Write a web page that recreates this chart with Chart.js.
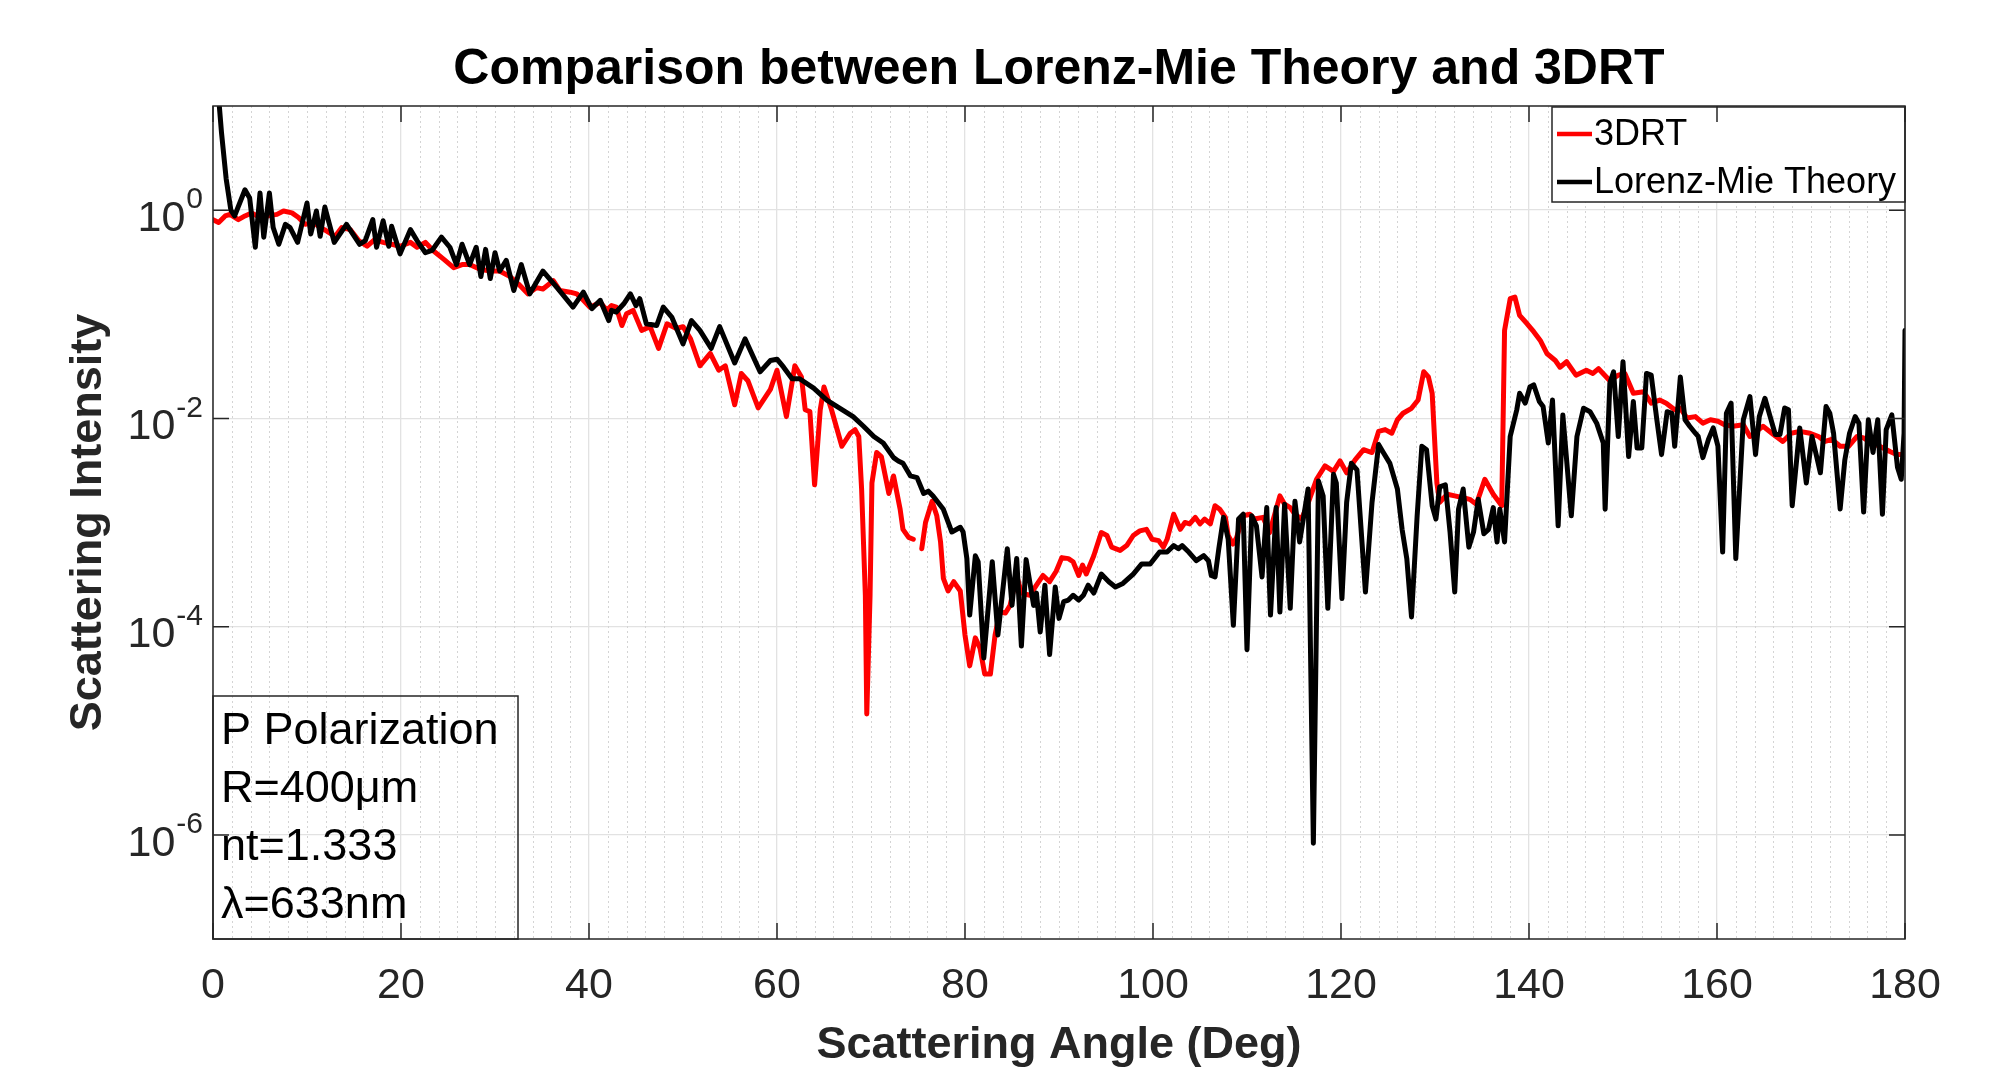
<!DOCTYPE html>
<html lang="en">
<head>
<meta charset="UTF-8">
<title>Comparison between Lorenz-Mie Theory and 3DRT</title>
<script src="https://cdn.jsdelivr.net/npm/chart.js@4.4.1/dist/chart.umd.min.js"></script>
<style>
  html, body { margin: 0; padding: 0; background: #fff; }
</style>
</head>
<body>
<canvas id="myChart" width="1991" height="1070"></canvas>
<script>
// 3DRT (red) - scattering angle in deg / intensity
const redAngle = [
  0, 0.6, 1.3, 1.8, 2.7, 3.4, 4.1, 5.0, 5.9, 6.8, 7.5, 8.4, 9.1, 9.8,
  10.7, 11.4, 12.1, 13.0, 13.7, 14.6, 15.5, 16.4, 17.2, 18.1, 19.0, 19.9,
  21.0, 21.7, 22.6, 23.4, 24.5, 25.6, 26.5, 27.3, 28.4, 29.5,
  30.5, 31.6, 32.5, 33.5, 34.4, 35.1, 36.2, 36.9, 38.0, 38.7, 39.4,
  40.1, 41.2, 41.9, 42.4, 42.9, 43.5, 44.0, 44.7, 45.6, 46.5, 47.4, 48.3, 49.3,
  50.0, 50.8, 51.8, 52.9, 53.8, 54.5, 55.5, 56.2, 56.9, 58.0, 59.3,
  60.0, 61.0, 61.9, 62.6, 63.0, 63.5, 64.0, 64.6, 65.0, 65.8, 66.9, 67.8, 68.3, 68.7,
  69.0, 69.4, 69.55, 69.9, 70.1, 70.6, 71.1, 71.9, 72.4, 73.1, 73.4, 74.0, 74.5,
  75.0, 75.4, 75.8, 76.5, 77.0, 77.4, 77.7, 78.2, 78.8, 79.5,
  80.0, 80.5, 81.1, 81.6, 82.1, 82.7, 83.2, 83.7, 84.3, 84.8, 85.5, 86.0, 86.9, 87.6, 88.3, 89.0, 89.7,
  90.3, 91.0, 91.5, 92.1, 92.5, 92.9, 93.7, 94.5, 95.1, 95.6, 96.5, 97.2, 97.9, 98.6, 99.3, 99.9,
  100.6, 101.1, 101.5, 102.2, 102.9, 103.4, 103.9, 104.5, 105.0, 105.5, 106.1, 106.6, 107.1, 107.7,
  108.0, 108.5, 108.9, 109.6, 110.3, 110.8, 111.7, 112.4, 113.5, 114.0, 114.6, 115.1, 115.8, 116.4,
  117.4, 118.3, 119.2, 119.9, 120.6, 121.5, 122.4, 123.3, 124.0, 124.7, 125.4, 126.0, 126.6,
  127.5, 128.2, 128.8, 129.3, 129.7, 130.2, 130.5, 131.3, 132.1, 133.0, 133.7, 134.4, 135.3, 136.2, 137.1,
  137.4, 138.0, 138.5, 139.0, 139.8, 140.5, 141.2, 141.9, 142.8, 143.3, 144.0, 145.0, 146.1, 146.8, 147.4,
  148.6, 149.5, 150.2, 151.1, 152.2, 153.0, 153.9, 154.6, 155.5, 156.1, 156.8, 157.7, 158.5, 159.3,
  160.1, 160.8, 161.7, 162.8, 163.5, 164.2, 164.9, 166.0, 167.0, 167.9, 168.8, 169.9,
  170.8, 171.5, 172.2, 173.1, 174.0, 174.9, 175.6, 176.4, 177.3, 178.4, 179.1, 180.0
];
const redValue = [
  0.81, 0.76, 0.88, 0.91, 0.81, 0.88, 0.94, 0.85, 0.88, 0.91, 0.98, 0.94, 0.85, 0.73,
  0.76, 0.68, 0.63, 0.56, 0.68, 0.65, 0.51, 0.45, 0.52, 0.49, 0.47, 0.45,
  0.49, 0.44, 0.49, 0.41, 0.34, 0.28, 0.30, 0.30, 0.27, 0.26,
  0.26, 0.23, 0.195, 0.157, 0.18, 0.175, 0.21, 0.169, 0.163, 0.157, 0.136,
  0.117, 0.13, 0.109, 0.121, 0.117, 0.078, 0.101, 0.109, 0.07, 0.076, 0.047, 0.081, 0.073,
  0.076, 0.058, 0.032, 0.042, 0.029, 0.032, 0.0135, 0.027, 0.023, 0.0126, 0.019,
  0.029, 0.0104, 0.032, 0.025, 0.0121, 0.0116, 0.0023, 0.0121, 0.020, 0.0121, 0.0054, 0.0072, 0.0078, 0.0067,
  0.0021, 2.0e-4, 1.45e-5, 2.0e-4, 0.0024, 0.0047, 0.0043, 0.0019, 0.0028, 0.00134, 8.6e-4, 7.2e-4, 6.9e-4,
  null, 5.6e-4, 1.0e-3, 0.0016, 0.00116, 6.5e-4, 2.9e-4, 2.2e-4, 2.7e-4, 2.2e-4,
  8.3e-5, 4.2e-5, 7.8e-5, 6.2e-5, 3.5e-5, 3.5e-5, 8.3e-5, 1.38e-4, 1.35e-4, 1.6e-4, 3.1e-4, 2.1e-4, 2.0e-4, 2.5e-4, 3.1e-4, 2.7e-4, 3.4e-4,
  4.6e-4, 4.5e-4, 4.2e-4, 3.1e-4, 3.9e-4, 3.2e-4, 4.8e-4, 8.0e-4, 7.5e-4, 5.8e-4, 5.4e-4, 6.0e-4, 7.5e-4, 8.3e-4, 8.6e-4, 6.9e-4,
  6.7e-4, 5.8e-4, 6.9e-4, 1.2e-3, 8.6e-4, 1.0e-3, 9.7e-4, 1.12e-3, 9.7e-4, 1.08e-3, 9.7e-4, 1.45e-3, 1.34e-3, 1.12e-3,
  7.5e-4, 6.2e-4, 7.2e-4, 1.16e-3, 1.2e-3, 1.08e-3, 1.12e-3, 8.0e-4, 1.8e-3, 1.5e-3, 1.39e-3, 1.2e-3, 1.08e-3, 1.45e-3,
  2.6e-3, 3.5e-3, 3.1e-3, 3.9e-3, 3.0e-3, 4.0e-3, 5.0e-3, 4.7e-3, 7.5e-3, 7.8e-3, 7.2e-3, 9.7e-3, 0.0112,
  0.0125, 0.015, 0.028, 0.025, 0.0174, 0.0024, 0.00156, 0.00187, 0.0018, 0.00173, 0.00167, 0.0015, 0.0026, 0.00187, 0.00145,
  0.07, 0.141, 0.146, 0.0975, 0.081, 0.068, 0.056, 0.042, 0.036, 0.031, 0.035, 0.026, 0.029, 0.027, 0.030,
  0.023, 0.026, 0.027, 0.0174, 0.018, 0.014, 0.015, 0.014, 0.0121, 0.0125, 0.0101, 0.0104, 0.009, 0.0097,
  0.0094, 0.0087, 0.0084, 0.0087, 0.0067, 0.0075, 0.0084, 0.007, 0.006, 0.0072, 0.0075, 0.0072,
  0.0067, 0.006, 0.0063, 0.0054, 0.0054, 0.0067, 0.0065, 0.0058, 0.0054, 0.0048, 0.0045, 0.0045
];

// Lorenz-Mie Theory (black)
const mieAngle = [
  0.4, 0.9, 1.4, 1.9, 2.3, 3.4, 3.9, 4.5, 5.0, 5.4, 6.0, 6.4, 7.0, 7.7, 8.2, 9.0,
  10.0, 10.4, 11.0, 11.4, 11.9, 12.9, 14.2, 15.6, 16.2, 17.0, 17.4, 18.1, 18.7, 19.0, 19.9,
  21.0, 21.7, 22.6, 23.3, 24.3, 25.2, 25.9, 26.5, 27.3, 28.0, 28.5, 29.0, 29.5,
  30.0, 30.5, 31.2, 32.0, 32.8, 33.7, 35.1, 36.6, 38.3, 39.4,
  40.3, 41.2, 42.1, 42.4, 42.9, 43.7, 44.4, 45.0, 45.4, 46.1, 47.2, 47.9, 48.8,
  50.0, 50.9, 51.8, 53.0, 53.9, 55.5, 56.6, 58.2, 59.3,
  60.0, 60.7, 61.6, 62.4, 63.9, 65.3, 66.7, 68.1, 69.2,
  70.3, 71.3, 72.4, 72.9, 73.4, 74.2, 74.9, 75.6, 76.1, 76.6, 77.7, 78.6, 79.5, 79.8,
  80.2, 80.5, 81.1, 81.4, 82.0, 82.9, 83.5, 84.5, 85.0, 85.5, 86.0, 86.5, 87.3, 87.6, 88.0, 88.5, 89.0, 89.6,
  90.0, 90.5, 91.0, 91.5, 92.1, 92.6, 93.1, 93.7, 94.5, 95.3, 96.0, 96.8, 97.9, 98.8, 99.7,
  100.7, 101.5, 102.2, 102.7, 103.1, 103.8, 104.6, 105.4, 105.9, 106.2, 106.6, 107.0, 107.5, 108.0, 108.55, 109.1, 109.6,
  110.0, 110.5, 111.0, 111.6, 112.1, 112.5, 113.1, 113.5, 114.0, 114.6, 115.1, 115.6, 116.5, 117.06, 117.6, 118.1, 118.6, 119.2, 119.5,
  120.1, 120.6, 121.1, 121.7, 122.6, 123.3, 124.0, 124.5, 125.2, 126.0, 126.5, 127.0, 127.5, 128.1, 128.6, 129.1, 129.7,
  130.1, 130.5, 131.1, 131.6, 132.1, 132.5, 133.0, 133.6, 134.1, 134.6, 135.2, 135.7, 136.2, 136.6, 136.9, 137.4,
  138.0, 138.7, 139.0, 139.6, 140.1, 140.5, 141.1, 141.5, 142.05, 142.5, 143.1, 143.6, 144.5, 145.1, 145.8, 146.5, 147.2, 147.9, 148.1, 148.6, 149.0, 149.5,
  150.0, 150.6, 151.1, 151.5, 152.0, 152.5, 153.0, 153.6, 154.1, 154.7, 155.2, 155.5, 156.1, 156.6, 157.1, 157.7, 158.0, 158.5, 159.1, 159.6,
  160.1, 160.6, 161.0, 161.5, 162.0, 162.8, 163.5, 164.1, 164.5, 165.1, 165.6, 166.2, 166.7, 167.2, 167.6, 168.0, 168.8, 169.5,
  170.1, 170.6, 171.0, 171.6, 172.0, 172.4, 173.1, 173.6, 174.1, 174.7, 175.1, 175.6, 176.1, 176.6, 177.1, 177.6, 178.0, 178.6, 179.2, 179.6, 179.9, 180.0
];
const mieValue = [
  20, 5.6, 2.0, 1.0, 0.88, 1.57, 1.31, 0.44, 1.46, 0.55, 1.46, 0.68, 0.47, 0.73, 0.68, 0.49,
  1.17, 0.59, 0.98, 0.56, 1.07, 0.49, 0.73, 0.47, 0.51, 0.81, 0.44, 0.79, 0.45, 0.70, 0.38,
  0.65, 0.51, 0.39, 0.41, 0.55, 0.44, 0.30, 0.47, 0.30, 0.44, 0.23, 0.42, 0.22,
  0.39, 0.26, 0.33, 0.169, 0.30, 0.157, 0.26, 0.18, 0.117, 0.163,
  0.113, 0.136, 0.087, 0.109, 0.105, 0.126, 0.157, 0.121, 0.141, 0.081, 0.078, 0.117, 0.094,
  0.052, 0.087, 0.07, 0.047, 0.076, 0.034, 0.058, 0.028, 0.036,
  0.037, 0.031, 0.024, 0.024, 0.0195, 0.015, 0.0125, 0.0104, 0.0084,
  0.0067, 0.0058, 0.0042, 0.0039, 0.0037, 0.0028, 0.0027, 0.0019, 0.0020, 0.0018, 0.00134, 8.1e-4, 9.0e-4, 8.1e-4,
  4.5e-4, 1.29e-4, 4.8e-4, 4.2e-4, 5.0e-5, 4.2e-4, 8.3e-5, 5.6e-4, 1.6e-4, 4.5e-4, 6.5e-5, 4.4e-4, 1.6e-4, 2.1e-4, 8.9e-5, 2.5e-4, 5.4e-5, 2.4e-4,
  1.2e-4, 1.74e-4, 1.8e-4, 2.0e-4, 1.8e-4, 2.0e-4, 2.5e-4, 2.1e-4, 3.2e-4, 2.7e-4, 2.4e-4, 2.6e-4, 3.2e-4, 4.0e-4, 4.0e-4,
  5.2e-4, 5.2e-4, 6.0e-4, 5.6e-4, 6.0e-4, 5.2e-4, 4.3e-4, 4.8e-4, 4.3e-4, 3.1e-4, 3.0e-4, 5.6e-4, 1.12e-3, 6.9e-4, 1.03e-4, 1.08e-3, 1.2e-3,
  6.0e-5, 1.16e-3, 9.3e-4, 3.0e-4, 1.39e-3, 1.29e-4, 1.39e-3, 1.38e-4, 1.5e-3, 1.5e-4, 1.6e-3, 6.5e-4, 2.1e-3, 8.3e-7, 2.5e-3, 1.8e-3, 1.5e-4, 2.9e-3, 2.4e-3,
  1.86e-4, 1.56e-3, 3.7e-3, 3.2e-3, 2.15e-4, 1.56e-3, 5.6e-3, 4.7e-3, 3.7e-3, 2.1e-3, 8.6e-4, 4.5e-4, 1.24e-4, 1.16e-3, 5.4e-3, 5.0e-3, 1.45e-3,
  1.08e-3, 2.2e-3, 2.3e-3, 8.1e-4, 2.15e-4, 1.34e-3, 2.1e-3, 5.8e-4, 8.1e-4, 1.67e-3, 7.8e-4, 8.6e-4, 1.39e-3, 6.5e-4, 1.34e-3, 6.5e-4,
  6.7e-3, 0.0121, 0.0174, 0.014, 0.020, 0.021, 0.0145, 0.013, 5.8e-3, 0.015, 9.3e-4, 0.0108, 1.16e-3, 6.7e-3, 0.0125, 0.0116, 9.0e-3, 5.8e-3, 1.34e-3, 0.0217, 0.028, 6.7e-3,
  0.035, 4.3e-3, 0.0145, 5.2e-3, 5.2e-3, 0.027, 0.026, 9.7e-3, 4.5e-3, 0.0116, 0.0112, 5.4e-3, 0.025, 9.7e-3, 8.4e-3, 7.2e-3, 6.7e-3, 4.2e-3, 6.3e-3, 8.1e-3,
  5.4e-3, 5.2e-4, 0.0112, 0.014, 4.5e-4, 9.7e-3, 0.0162, 4.5e-3, 0.0104, 0.0156, 0.0108, 7.0e-3, 7.0e-3, 0.0126, 0.0121, 1.45e-3, 8.1e-3, 2.4e-3,
  6.7e-3, 4.3e-3, 3.0e-3, 0.013, 0.0112, 7.2e-3, 1.35e-3, 4.0e-3, 7.2e-3, 0.0104, 9.0e-3, 1.26e-3, 9.7e-3, 4.7e-3, 9.7e-3, 1.2e-3, 7.8e-3, 0.0108, 3.4e-3, 2.6e-3, 7.2e-3, 0.07
];

// axes
const xMin = 0, xMax = 180, xStep = 20, xMinorStep = 2;
const yMin = 1e-7, yMax = 10;
const yTickValues = [1e-6, 1e-4, 1e-2, 1];
const yTickExps = ['-6', '-4', '-2', '0'];

const chartTitle = 'Comparison between Lorenz-Mie Theory and 3DRT';
const seriesNames = ['3DRT', 'Lorenz-Mie Theory'];
const infoLines = ['P Polarization', 'R=400\u03bcm', 'nt=1.333', '\u03bb=633nm'];

const FONT = "'Liberation Sans', Arial, Helvetica, sans-serif";
const AXIS_COLOR = '#262626';

function f_points(p_x, p_y) {
    return p_x.map((v, i) => ({ x: v, y: p_y[i] }));
}

// 그리드 보조선, 안쪽 눈금, 범례, 정보 상자, 제목은 직접 그림
const decorPlugin = {
    id: 'decor',
    beforeDatasetsDraw(chart) {
        const { ctx, chartArea: a, scales: { x } } = chart;
        ctx.save();
        ctx.strokeStyle = '#d4d4d4';
        ctx.lineWidth = 1;
        ctx.setLineDash([2, 3]);
        for (let d = xMin; d <= xMax; d += xMinorStep) {
            if (d % xStep === 0) continue;
            const px = Math.round(x.getPixelForValue(d)) + 0.5;
            ctx.beginPath();
            ctx.moveTo(px, a.top);
            ctx.lineTo(px, a.bottom);
            ctx.stroke();
        }
        ctx.restore();
    },
    afterDatasetsDraw(chart) {
        const { ctx, chartArea: a, scales: { x, y } } = chart;
        const ds = chart.data.datasets;
        ctx.save();

        // 제목 - 플롯 영역 가운데 정렬
        ctx.fillStyle = '#000';
        ctx.font = 'bold 50px ' + FONT;
        ctx.textAlign = 'center';
        ctx.textBaseline = 'middle';
        ctx.fillText(chartTitle, (a.left + a.right) / 2, 70);

        // 정보 상자 (좌하단)
        ctx.strokeStyle = AXIS_COLOR;
        ctx.lineWidth = 1.5;
        ctx.strokeRect(a.left, a.bottom - 243, 305, 243);
        ctx.fillStyle = '#000';
        ctx.font = '45px ' + FONT;
        ctx.textAlign = 'left';
        ctx.textBaseline = 'middle';
        infoLines.forEach((t, i) => ctx.fillText(t, a.left + 8, a.bottom - 207 + i * 58));

        // 범례 (우상단)
        const lx = 1552, ly = a.top + 1, lw = a.right - lx, lh = 95;
        ctx.fillStyle = '#fff';
        ctx.fillRect(lx, ly, lw, lh);
        ctx.strokeStyle = AXIS_COLOR;
        ctx.lineWidth = 1.5;
        ctx.strokeRect(lx, ly, lw, lh);
        ctx.font = '36px ' + FONT;
        ctx.fillStyle = '#000';
        [ds[0], ds[1]].forEach((d, i) => {
            const ry = ly + 27 + i * 48;
            ctx.strokeStyle = d.borderColor;
            ctx.lineWidth = 4.5;
            ctx.beginPath();
            ctx.moveTo(lx + 5, ry);
            ctx.lineTo(lx + 40, ry);
            ctx.stroke();
            ctx.fillText(d.label, lx + 42, ry + 1);
        });

        // 축 테두리
        ctx.strokeStyle = AXIS_COLOR;
        ctx.lineWidth = 1.5;
        ctx.strokeRect(a.left, a.top, a.right - a.left, a.bottom - a.top);

        // 안쪽 눈금
        const tl = 16;
        ctx.beginPath();
        for (let d = xMin; d <= xMax; d += xStep) {
            const px = x.getPixelForValue(d);
            ctx.moveTo(px, a.bottom); ctx.lineTo(px, a.bottom - tl);
            ctx.moveTo(px, a.top); ctx.lineTo(px, a.top + tl);
        }
        yTickValues.forEach(v => {
            const py = y.getPixelForValue(v);
            ctx.moveTo(a.left, py); ctx.lineTo(a.left + tl, py);
            ctx.moveTo(a.right, py); ctx.lineTo(a.right - tl, py);
        });
        ctx.stroke();

        // y 눈금 라벨 10^n
        ctx.fillStyle = AXIS_COLOR;
        yTickValues.forEach((v, i) => {
            const py = y.getPixelForValue(v);
            const exp = yTickExps[i];
            ctx.font = '30px ' + FONT;
            const ew = ctx.measureText(exp).width;
            const right = a.left - 10;
            ctx.textAlign = 'left';
            ctx.textBaseline = 'middle';
            ctx.fillText(exp, right - ew, py - 10);
            ctx.font = '43px ' + FONT;
            ctx.textAlign = 'right';
            ctx.fillText('10', right - ew - 1, py + 9);
        });
        ctx.restore();
    }
};

const ctx = document.getElementById('myChart').getContext('2d');
const myChart = new Chart(ctx, {
    type: 'line',
    data: {
        datasets: [{
            label: seriesNames[0],
            data: f_points(redAngle, redValue),
            borderColor: '#ff0000',
            borderWidth: 5,
            order: 2
        }, {
            label: seriesNames[1],
            data: f_points(mieAngle, mieValue),
            borderColor: '#000000',
            borderWidth: 5,
            order: 1
        }]
    },
    options: {
        responsive: false,
        animation: false,
        events: [],
        clip: 0,
        spanGaps: false,
        elements: {
            point: { radius: 0 },
            line: { tension: 0, borderJoinStyle: 'round', borderCapStyle: 'round' }
        },
        layout: { padding: { left: 50, right: 86, top: 106, bottom: 0 } },
        plugins: {
            legend: { display: false },
            tooltip: { enabled: false },
            title: { display: false }
        },
        scales: {
            x: {
                type: 'linear',
                min: xMin,
                max: xMax,
                ticks: {
                    stepSize: xStep,
                    color: AXIS_COLOR,
                    font: { family: FONT, size: 43 },
                    padding: 21,
                    maxRotation: 0
                },
                grid: { color: '#e2e2e2', lineWidth: 1.3, drawTicks: false },
                border: { display: false },
                title: {
                    display: true,
                    text: 'Scattering Angle (Deg)',
                    color: AXIS_COLOR,
                    font: { family: FONT, size: 45, weight: 'bold', lineHeight: 1.0 },
                    padding: { top: 0, bottom: 2 }
                },
                afterFit(scale) { scale.height = 131; }
            },
            y: {
                type: 'logarithmic',
                min: yMin,
                max: yMax,
                afterBuildTicks(scale) {
                    scale.ticks = yTickValues.map(v => ({ value: v }));
                },
                ticks: { display: false },
                grid: { color: '#e2e2e2', lineWidth: 1.3, drawTicks: false },
                border: { display: false },
                title: {
                    display: true,
                    text: 'Scattering Intensity',
                    color: AXIS_COLOR,
                    font: { family: FONT, size: 45, weight: 'bold' },
                    padding: { top: 12, bottom: 0 }
                },
                afterFit(scale) { scale.width = 163; }
            }
        }
    },
    plugins: [decorPlugin]
});
</script>
</body>
</html>
